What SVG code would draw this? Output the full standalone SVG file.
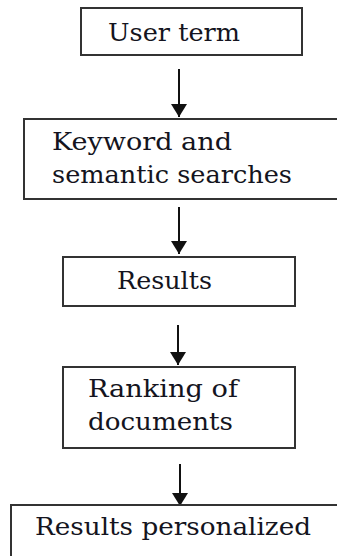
<svg xmlns="http://www.w3.org/2000/svg" width="337" height="556" viewBox="0 0 337 556">
<defs>
<marker id="ah" viewBox="0 0 13 16" refX="13" refY="8" markerWidth="13" markerHeight="16" markerUnits="userSpaceOnUse" orient="auto">
<path d="M0,0 L13,8 L0,16 z" fill="#111"/>
</marker>
<style>
.box{fill:#fff;stroke:#333;stroke-width:2}
.c{stroke:#111;stroke-width:2;fill:none;marker-end:url(#ah)}
</style>
</defs>
<rect width="337" height="556" fill="#fff"/>
<g id="connectors">
<line class="c" x1="179" y1="69" x2="179" y2="117"/>
<line class="c" x1="179" y1="207" x2="179" y2="254"/>
<line class="c" x1="178" y1="325" x2="178" y2="365"/>
<line class="c" x1="180" y1="464" x2="180" y2="506"/>
</g>
<g font-family="'DejaVu Serif', serif" font-size="25" fill="#141420">
<g id="user-term">
<rect class="box" x="81" y="8" width="221" height="47"/>
<text x="108" y="41" textLength="132" lengthAdjust="spacingAndGlyphs">User term</text>
</g>
<g id="keyword-semantic">
<rect class="box" x="24" y="119" width="330" height="80"/>
<text x="52" y="150" textLength="180" lengthAdjust="spacingAndGlyphs">Keyword and</text>
<text x="52" y="183" textLength="240" lengthAdjust="spacingAndGlyphs">semantic searches</text>
</g>
<g id="results">
<rect class="box" x="63" y="257" width="232" height="49"/>
<text x="117" y="289" textLength="95" lengthAdjust="spacingAndGlyphs">Results</text>
</g>
<g id="ranking">
<rect class="box" x="63" y="367" width="232" height="81"/>
<text x="88" y="397" textLength="150" lengthAdjust="spacingAndGlyphs">Ranking of</text>
<text x="88" y="430" textLength="145" lengthAdjust="spacingAndGlyphs">documents</text>
</g>
<g id="results-personalized">
<rect class="box" x="11" y="505" width="340" height="70"/>
<text x="35" y="535" textLength="276" lengthAdjust="spacingAndGlyphs">Results personalized</text>
</g>
</g>
</svg>
